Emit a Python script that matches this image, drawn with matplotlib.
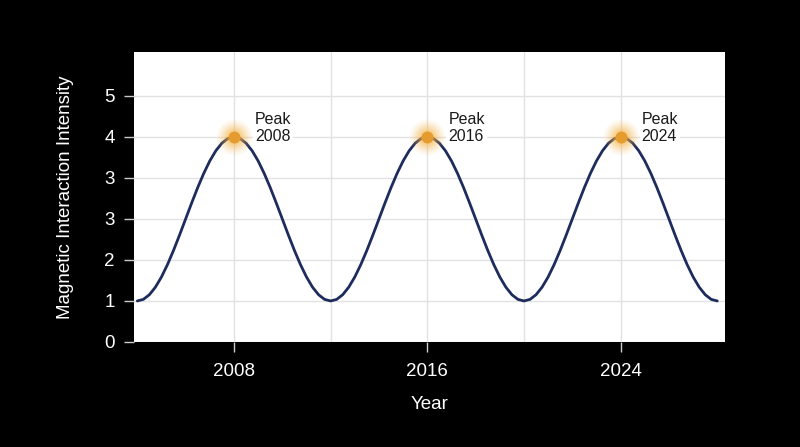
import matplotlib
matplotlib.use("Agg")
import matplotlib.pyplot as plt
from matplotlib.ticker import FixedLocator

plt.rcParams['font.family'] = ['Liberation Sans', 'DejaVu Sans']

# --- data ---
# quarter-year samples from 2004 to 2028
years = [2004 + 0.25 * i for i in range(97)]
intensity = [
    0.833, 0.865, 0.960, 1.114, 1.321, 1.574, 1.862, 2.175,
    2.500, 2.825, 3.138, 3.426, 3.679, 3.886, 4.040, 4.135,
    4.167, 4.135, 4.040, 3.886, 3.679, 3.426, 3.138, 2.825,
    2.500, 2.175, 1.862, 1.574, 1.321, 1.114, 0.960, 0.865,
    0.833, 0.865, 0.960, 1.114, 1.321, 1.574, 1.862, 2.175,
    2.500, 2.825, 3.138, 3.426, 3.679, 3.886, 4.040, 4.135,
    4.167, 4.135, 4.040, 3.886, 3.679, 3.426, 3.138, 2.825,
    2.500, 2.175, 1.862, 1.574, 1.321, 1.114, 0.960, 0.865,
    0.833, 0.865, 0.960, 1.114, 1.321, 1.574, 1.862, 2.175,
    2.500, 2.825, 3.138, 3.426, 3.679, 3.886, 4.040, 4.135,
    4.167, 4.135, 4.040, 3.886, 3.679, 3.426, 3.138, 2.825,
    2.500, 2.175, 1.862, 1.574, 1.321, 1.114, 0.960, 0.865,
    0.833,
]
peak_years = [2008, 2016, 2024]
peak_values = [4.167, 4.167, 4.167]
peak_labels = ["Peak\n2008", "Peak\n2016", "Peak\n2024"]

x_ticks = [2008, 2016, 2024]
x_tick_labels = ["2008", "2016", "2024"]
x_grid = [2008, 2012, 2016, 2020, 2024]
y_ticks = [0, 5 / 6, 10 / 6, 15 / 6, 20 / 6, 25 / 6, 30 / 6]
y_tick_labels = ["0", "1", "2", "3", "3", "4", "5"]

# --- figure ---
fig = plt.figure(figsize=(8, 4.47), dpi=100, facecolor='black')
ax = fig.add_axes([0.168, 0.235, 0.7386, 0.6495])
ax.set_facecolor('white')
for s in ax.spines.values():
    s.set_visible(False)

ax.set_xlim(2003.88, 2028.33)
ax.set_ylim(0, 5.9)

# grid
for gx in x_grid:
    ax.axvline(gx, color='#e2e2e2', lw=1, zorder=1)
for gy in y_ticks:
    ax.axhline(gy, color='#e2e2e2', lw=1, zorder=1)

# curve
ax.plot(years, intensity, color='#1d2c5c', lw=2.0, zorder=3,
        solid_capstyle='round')

# glowing peaks
for r, a in [(18, 0.05), (16.5, 0.06), (15, 0.07), (13.5, 0.09),
             (12, 0.11), (10.5, 0.13), (9, 0.16), (7.5, 0.2)]:
    ax.scatter(peak_years, peak_values, s=(1.44 * r) ** 2, color='#f8b547',
               alpha=a, linewidths=0, zorder=4)
ax.scatter(peak_years, peak_values, s=(1.44 * 6) ** 2, color='#e59b2e',
           linewidths=0, zorder=5)

for px, py, lab in zip(peak_years, peak_values, peak_labels):
    ax.annotate(lab, (px, py), xytext=(21, 9), textcoords='offset pixels',
                ha='left', va='center', fontsize=11.5, color='#1a1a1a',
                linespacing=1.15, zorder=6,
                bbox=dict(boxstyle='square,pad=0.12', fc='white', ec='none'))

# ticks
ax.xaxis.set_major_locator(FixedLocator(x_ticks))
ax.set_xticklabels(x_tick_labels)
ax.yaxis.set_major_locator(FixedLocator(y_ticks))
ax.set_yticklabels(y_tick_labels)
ax.tick_params(axis='both', colors='#cccccc', labelcolor='white',
               labelsize=13.5, length=7, width=1)
ax.tick_params(axis='x', pad=8)
ax.tick_params(axis='y', pad=7)

ax.set_xlabel("Year", color='white', fontsize=13.5, labelpad=12)
ax.set_ylabel("Magnetic Interaction Intensity", color='white', fontsize=13.5,
              labelpad=22)

fig.savefig("out.png", dpi=100, facecolor='black')
